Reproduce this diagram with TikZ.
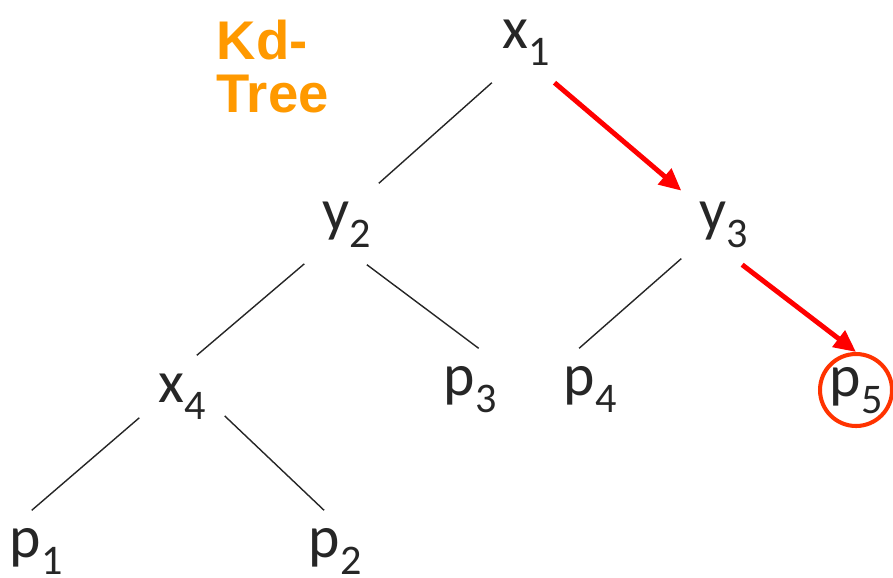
\documentclass[tikz,border=0pt]{standalone}
\usepackage{fontspec}
\setmainfont{Carlito}
\newfontfamily\titlefont{Liberation Sans}
\usetikzlibrary{arrows.meta}
\newcommand{\lowsub}[1]{\raisebox{-0.17cm}{\fontsize{12}{14}\selectfont #1}}
\definecolor{inkgray}{HTML}{262626}
\definecolor{kdorange}{HTML}{FF9900}
\definecolor{hitred}{HTML}{FF3300}

\begin{document}
\begin{tikzpicture}[
  every node/.style={font=\fontsize{17}{20}\selectfont, text=inkgray},
  key/.style={minimum width=0.84cm, minimum height=0.8cm, inner sep=0pt,
    text height=0.30cm, text depth=0.18cm},
  branch/.style={draw=inkgray, line width=0.4pt},
  query/.style={draw=red, line width=1.4pt, -{Triangle[length=0.22cm,width=0.2cm]}}
]
  \useasboundingbox (0,0) rectangle (8.93,-5.77);

  % Title
  \node[anchor=base west, align=left, inner sep=0pt, text=kdorange,
    font=\titlefont\bfseries\fontsize{15.5}{15}\selectfont] (title) at (2.16,-1.12) {Kd-\\Tree};

  % Splitting nodes
  \node[key] (x1) at (5.26,-0.42) {x\lowsub{1}};
  \node[key] (y2) at (3.47,-2.24) {y\lowsub{2}};
  \node[key] (y3) at (7.24,-2.24) {y\lowsub{3}};
  \node[key] (x4) at (1.82,-3.96) {x\lowsub{4}};

  % Leaves
  \node[key] (p1) at (0.36,-5.51) {p\lowsub{1}};
  \node[key] (p2) at (3.35,-5.51) {p\lowsub{2}};
  \node[key] (p3) at (4.70,-3.89) {p\lowsub{3}};
  \node[key] (p4) at (5.90,-3.89) {p\lowsub{4}};
  \node[key, circle, draw=hitred, line width=1.15pt, minimum size=0.72cm] (p5) at (8.56,-3.90) {p\lowsub{5}};

  % Tree edges
  \draw[branch] (x1.-130) -- (y2.52);
  \draw[branch] (y2.-137) -- (x4.70);
  \draw[branch] (y2.-64) -- (p3.78);
  \draw[branch] (y3.-141) -- (p4.105);
  \draw[branch] (x4.-153) -- (p1.96);
  \draw[branch] (x4.-25) -- (p2.105);

  % Search path
  \draw[query] (x1.-55) -- (y3.142);
  \draw[query] (y3.-66) -- (p5.north);
\end{tikzpicture}
\end{document}
